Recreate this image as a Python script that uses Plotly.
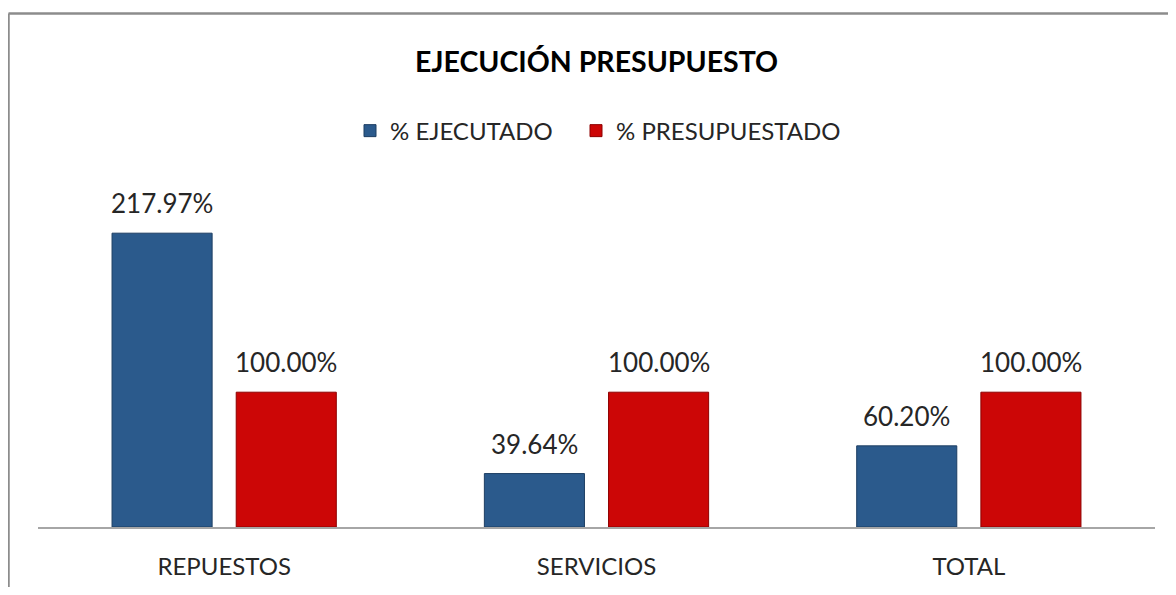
import plotly.graph_objects as go

categories = ["REPUESTOS", "SERVICIOS", "TOTAL"]
ejecutado = [217.97, 39.64, 60.20]
presupuestado = [100.00, 100.00, 100.00]
series_names = ["% EJECUTADO", "% PRESUPUESTADO"]
colors = ["#2B5A8C", "#CC0606"]
edge_colors = ["#1D3E63", "#8E0000"]

FONT = "Lato, Calibri, Carlito, sans-serif"
TXT = "#262626"

# page body has an 8px margin; the figure is sized to fit inside it
W, H = 1160, 579
ML, MR, MT, MB = 30, 13, 182, 60
PW, PH = W - ML - MR, H - MT - MB

fig = go.Figure()
for name, vals, c, ec, lg in zip(series_names, [ejecutado, presupuestado], colors,
                                 edge_colors, ["legend", "legend2"]):
    fig.add_trace(go.Bar(
        x=categories, y=vals, name=name, legend=lg,
        marker=dict(color=c, line=dict(color=ec, width=1)),
        cliponaxis=False,
    ))

# value labels above each bar
offsets = [-62, 62]
for vals, dx in zip([ejecutado, presupuestado], offsets):
    for cat, v in zip(categories, vals):
        fig.add_annotation(x=cat, y=v, text=f"{v:.2f}%", showarrow=False,
                           xanchor="center", yanchor="bottom", xshift=dx, yshift=12,
                           font=dict(family=FONT, size=26, color=TXT))

legend_style = dict(orientation="h", y=1.175, yanchor="middle", xanchor="left",
                    font=dict(family=FONT, size=24, color=TXT), itemwidth=30,
                    bgcolor="rgba(0,0,0,0)")

fig.update_layout(
    width=W, height=H,
    margin=dict(l=ML, r=MR, t=MT, b=MB, autoexpand=False),
    paper_bgcolor="white", plot_bgcolor="white",
    barmode="group", bargap=0.333, bargroupgap=0.194,
    title=dict(text="<b>EJECUCIÓN PRESUPUESTO</b>", xref="paper", x=0.5, xanchor="center",
               y=1 - 54 / H, yanchor="middle",
               font=dict(family=FONT, size=28.5, color="#000000")),
    legend=dict(x=(350 - 38) / PW, **legend_style),
    legend2=dict(x=(576 - 38) / PW, **legend_style),
    showlegend=True,
)
fig.update_xaxes(showline=True, linecolor="#A6A6A6", linewidth=1.5, ticks="",
                 tickfont=dict(family=FONT, size=24, color=TXT), automargin=False,
                 ticklabelstandoff=17, showgrid=False, zeroline=False)
fig.update_yaxes(range=[0, 250], visible=False, showgrid=False, zeroline=False,
                 automargin=False)

# outer chart border (top and left edges visible)
top_y = (H - MB - 5.5) / PH
left_x = (0.5 - ML) / PW
fig.add_shape(type="line", xref="paper", yref="paper",
              x0=left_x, x1=(W - ML) / PW, y0=top_y, y1=top_y,
              line=dict(color="#8C8C8C", width=2.5))
fig.add_shape(type="line", xref="paper", yref="paper",
              x0=left_x, x1=left_x, y0=top_y, y1=-MB / PH,
              line=dict(color="#8C8C8C", width=2.5))

fig.write_html("out.html")
